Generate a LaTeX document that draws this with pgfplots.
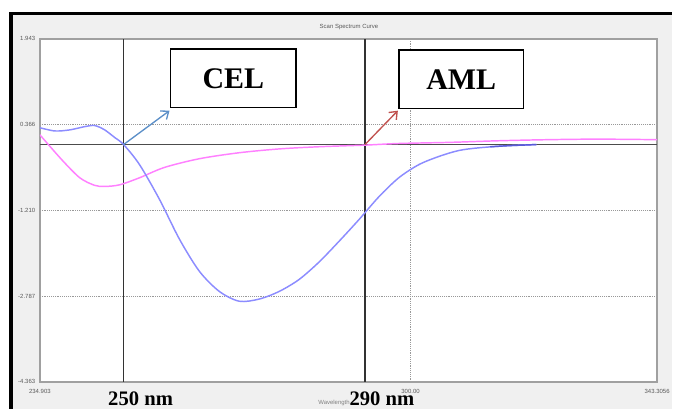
\documentclass[border=0pt]{standalone}
\usepackage{fontspec}
\setmainfont{Liberation Serif}
\newfontfamily\guifont{Liberation Sans}
\usepackage{pgfplots}
\pgfplotsset{compat=1.18}
\usetikzlibrary{arrows.meta}
\definecolor{panel}{HTML}{F0F0F0}
\definecolor{framegray}{HTML}{A0A0A0}
\definecolor{celblue}{HTML}{8C8CFF}
\definecolor{celdark}{HTML}{5A5AD8}
\definecolor{amlpink}{HTML}{FF80FF}
\definecolor{arrblue}{HTML}{5B8FC8}
\definecolor{arrred}{HTML}{C0504D}

\begin{document}
\begin{tikzpicture}
% window background, in pixel units (1px = 0.75pt)
\begin{scope}[x=0.75pt,y=0.75pt]
  \path[use as bounding box, fill=white] (0,0) rectangle (674,410);
  \fill[panel] (11,0) rectangle (674,397);
  \fill[black] (9,395) rectangle (674,398);
  \fill[black] (9,0) rectangle (13,398);
  \node[font=\guifont\fontsize{4.5}{5}\selectfont, text=gray!70!black] at (350,383) {Scan Spectrum Curve};
  \node[font=\guifont\fontsize{4.5}{5}\selectfont, text=gray] at (335,6) {Wavelength};
\end{scope}

\begin{axis}[
    at={(30pt,20.25pt)}, anchor=south west,
    scale only axis, width=464.25pt, height=258pt,
    xmin=234.903, xmax=343.3056, ymin=-4.363, ymax=1.943,
    axis background/.style={fill=white},
    axis line style={framegray, line width=1.2pt},
    xtick={234.903,300,343.3056}, xticklabels={234.903,300.00,343.3056},
    ytick={1.943,0.366,-1.210,-2.787,-4.363},
    yticklabels={1.943,0.366,-1.210,-2.787,-4.363},
    major tick length=0pt,
    tick label style={font=\guifont\fontsize{4.5}{5}\selectfont, text=gray!70!black},
    xticklabel style={yshift=-2pt},
    grid=major, grid style={densely dotted, gray!80, line width=0.6pt},
]
  % zero line
  \addplot[gray!60!black, line width=0.8pt] coordinates {(234.903,0) (343.3056,0)};
  % marker lines at 250 nm and 290 nm
  \addplot[black!80, line width=1.1pt] coordinates {(249.6,-4.363) (249.6,1.943)};
  \addplot[black!80, line width=1.1pt] coordinates {(292.0,-4.363) (292.0,1.943)};

  % AML (pink)
  \addplot[amlpink, line width=1.1pt, smooth] coordinates {
    (234.90,0.18) (238.76,-0.28) (241.91,-0.61) (244.53,-0.75) (246.28,-0.77)
    (248.91,-0.74) (252.41,-0.61) (256.79,-0.42) (262.92,-0.26) (269.92,-0.15)
    (276.93,-0.08) (283.93,-0.04) (291.99,-0.01) (297.94,0.02) (306.69,0.04)
    (315.45,0.07) (324.20,0.09) (332.96,0.10) (343.29,0.09)};

  % CEL (blue)
  \addplot[celblue, line width=1.1pt, smooth] coordinates {
    (234.90,0.31) (237.53,0.25) (240.16,0.27) (242.78,0.33) (244.53,0.35)
    (246.28,0.27) (248.04,0.13) (249.61,0.00) (252.41,-0.37) (255.92,-1.01)
    (259.42,-1.74) (262.92,-2.33) (266.42,-2.70) (269.92,-2.88) (273.43,-2.84)
    (276.93,-2.70) (280.43,-2.48) (283.93,-2.16) (287.43,-1.78) (290.94,-1.38)
    (294.44,-0.96) (297.94,-0.61) (301.44,-0.37) (304.94,-0.22) (308.45,-0.11)
    (311.95,-0.06) (317.20,-0.02) (322.10,0.00)};
  \addplot[celdark, line width=1.1pt] coordinates {
    (314.0,-0.04) (317.20,-0.02) (322.10,0.00)};

  \coordinate (p250) at (axis cs:249.6,0);
  \coordinate (p290) at (axis cs:292.0,0);
\end{axis}

\begin{scope}[x=0.75pt,y=0.75pt]
  \draw[arrblue, line width=1pt, -{Straight Barb[length=5pt,width=8pt]}] (p250) -- (170,299);
  \draw[arrred, line width=1pt, -{Straight Barb[length=5pt,width=8pt]}] (p290) -- (399,299);
  \draw[black, line width=1pt, fill=white] (171,302) rectangle (297,361);
  \node[font=\bfseries\fontsize{22.5}{24}\selectfont] at (234,331.5) {CEL};
  \draw[black, line width=1pt, fill=white] (400,301) rectangle (525,360);
  \node[font=\bfseries\fontsize{22.5}{24}\selectfont] at (462.5,330.5) {AML};
  \node[font=\bfseries\fontsize{15.5}{17}\selectfont] at (141,10) {250 nm};
  \node[font=\bfseries\fontsize{15.5}{17}\selectfont] at (383,10) {290 nm};
\end{scope}
\end{tikzpicture}
\end{document}
